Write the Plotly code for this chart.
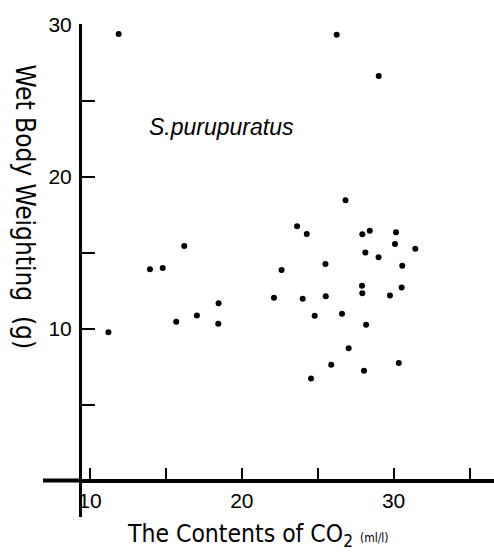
import plotly.graph_objects as go

co2 = [11.89, 26.25, 29.02, 26.83, 16.21, 23.64, 24.28, 27.94, 28.43, 30.16,
       30.09, 31.43, 28.14, 29.01, 30.57, 25.51, 22.62, 13.95, 14.79, 18.47,
       17.04, 15.68, 18.45, 11.21, 22.12, 24.01, 25.53, 27.92, 27.94, 30.53,
       29.76, 24.80, 26.60, 28.19, 27.04, 25.89, 24.56, 28.05, 30.34]
weight = [29.39, 29.34, 26.63, 18.46, 15.45, 16.75, 16.24, 16.22, 16.46, 16.35,
          15.58, 15.27, 15.02, 14.71, 14.16, 14.27, 13.87, 13.92, 14.00, 11.68,
          10.88, 10.47, 10.34, 9.78, 12.05, 11.99, 12.14, 12.84, 12.34, 12.73,
          12.20, 10.87, 11.00, 10.28, 8.72, 7.65, 6.74, 7.25, 7.76]

x_ticks = [10, 15, 20, 25, 30, 35]
x_labels = ["10", " ", "20", " ", "30", " "]
y_ticks = [5, 10, 15, 20, 25, 30]
y_labels = [" ", "10", " ", "20", " ", "30"]

W, H = 494, 554
L, T, R, B = 82, 24, 0, 75
pw, ph = W - L - R, H - T - B

def px(xp):
    return (xp - L) / pw

def py(yp):
    return (H - B - yp) / ph

narrow = "Liberation Sans Narrow, DejaVu Sans Condensed, Liberation Sans, Arial"
sans = "Liberation Sans, Arial"

fig = go.Figure()
fig.add_trace(go.Scatter(x=co2, y=weight, mode="markers",
                         marker=dict(color="black", size=6),
                         showlegend=False, hoverinfo="x+y"))

fig.update_layout(
    width=W, height=H,
    margin=dict(l=L, r=R, t=T, b=B, pad=0),
    paper_bgcolor="white", plot_bgcolor="white",
    xaxis=dict(range=[25 + (L - 317.7) / 15.18, 25 + (W - 317.7) / 15.18],
               showgrid=False, zeroline=False,
               showline=True, linecolor="black", linewidth=4,
               tickmode="array", tickvals=x_ticks, ticktext=x_labels,
               ticks="inside", ticklen=11, tickwidth=1.5, tickcolor="black",
               tickfont=dict(family=sans, size=21, color="black")),
    yaxis=dict(range=[(481 - (H - B)) / 15.21, (481 - T) / 15.21],
               showgrid=False, zeroline=False,
               showline=True, linecolor="black", linewidth=3,
               tickmode="array", tickvals=y_ticks, ticktext=y_labels,
               ticks="inside", ticklen=13, tickwidth=1.5, tickcolor="black",
               ticklabelstandoff=3,
               tickfont=dict(family=sans, size=21, color="black")),
    shapes=[
        # x axis extension to the left of the y axis
        dict(type="line", xref="paper", yref="paper",
             x0=px(43), x1=px(L), y0=py(480.5), y1=py(480.5),
             line=dict(color="black", width=4)),
        # y axis extension below the x axis
        dict(type="line", xref="paper", yref="paper",
             x0=px(80.5), x1=px(80.5), y0=py(479), y1=py(517),
             line=dict(color="black", width=3)),
    ],
    annotations=[
        dict(text="Wet Body Weighting  (g)", textangle=90,
             xref="paper", yref="paper", x=px(25), y=py(206.5),
             showarrow=False, xanchor="center", yanchor="middle",
             font=dict(family=narrow, size=26, color="black")),
        dict(text="The Contents of CO<sub>2</sub> <span style='font-size:12px'>(ml/l)</span>",
             xref="paper", yref="paper", x=px(125), y=py(535),
             showarrow=False, xanchor="left", yanchor="middle",
             font=dict(family=narrow, size=24.5, color="black")),
        dict(text="<i>S.purupuratus</i>",
             xref="paper", yref="paper", x=px(147), y=py(127),
             showarrow=False, xanchor="left", yanchor="middle",
             font=dict(family=sans, size=23, color="black")),
    ],
)

fig.write_html("out.html")
